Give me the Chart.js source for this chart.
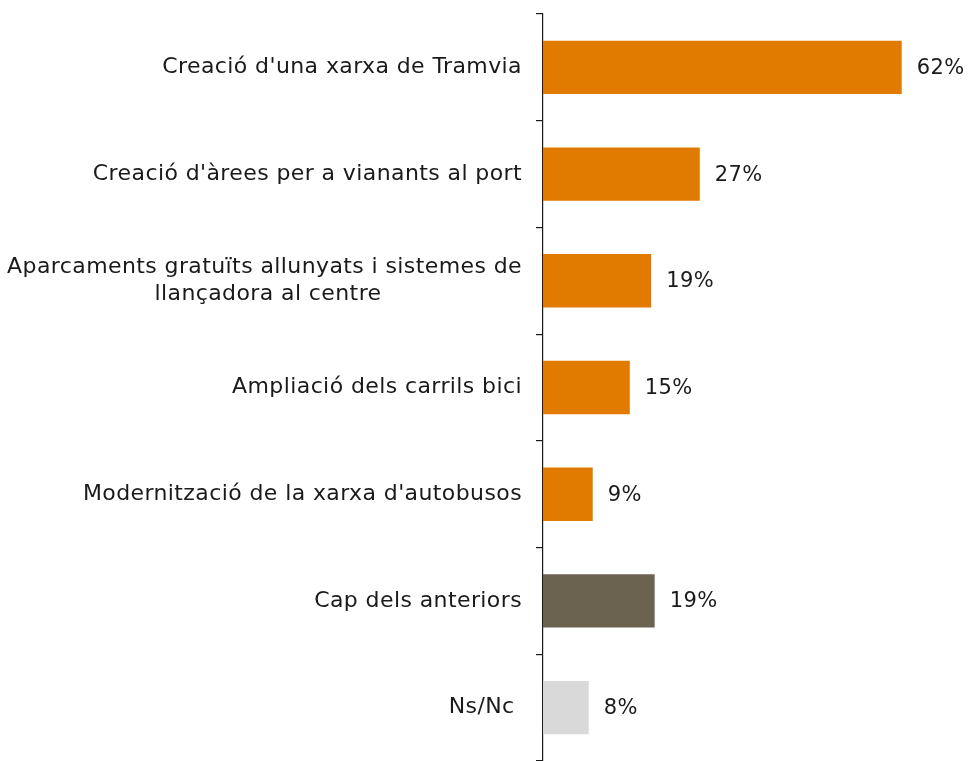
<!DOCTYPE html>
<html>
<head>
<meta charset="utf-8">
<script src="https://cdn.jsdelivr.net/npm/chart.js@4.4.1/dist/chart.umd.min.js"></script>
<style>
  html, body { margin: 0; padding: 0; background: #fff; }
  #wrap { width: 968px; height: 761px; }
</style>
</head>
<body>
<div id="wrap"><canvas id="chart"></canvas></div>
<script>
// categories (second line of the long label is padded so it sits centred under the first)
const categories = [
  "Creació d'una xarxa de Tramvia",
  "Creació d'àrees per a vianants al port",
  ["Aparcaments gratuïts allunyats i sistemes de", "llançadora al centre                   "],
  "Ampliació dels carrils bici",
  "Modernització de la xarxa d'autobusos",
  "Cap dels anteriors",
  "Ns/Nc "
];
// values (labels show rounded percent)
const values = [62, 27.1, 18.7, 15.0, 8.6, 19.3, 7.9];
const valueLabels = ["62%", "27%", "19%", "15%", "9%", "19%", "8%"];
const barColors = ["#E07B00", "#E07B00", "#E07B00", "#E07B00", "#E07B00", "#6B6350", "#D9D9D9"];

const FONT = "'DejaVu Sans', sans-serif";
const SPACING = "0.4px";

// a little letter spacing to get closer to the original geometric font
const spacingPlugin = {
  id: "spacing",
  beforeDraw(chart) { chart.ctx.letterSpacing = SPACING; }
};

// draw the % labels just after each bar
const valueLabelPlugin = {
  id: "valueLabels",
  afterDatasetsDraw(chart) {
    const ctx = chart.ctx;
    const meta = chart.getDatasetMeta(0);
    ctx.save();
    ctx.letterSpacing = "0.4px";
    ctx.font = "21px " + FONT;
    ctx.fillStyle = "#1a1a1a";
    ctx.textAlign = "left";
    ctx.textBaseline = "middle";
    meta.data.forEach((bar, i) => {
      ctx.fillText(valueLabels[i], bar.x + 15, bar.y + 1);
    });
    ctx.restore();
  }
};

const ctx = document.getElementById("chart").getContext("2d");
new Chart(ctx, {
  type: "bar",
  data: {
    labels: categories,
    datasets: [{
      data: values,
      backgroundColor: barColors,
      barPercentage: 0.5,
      categoryPercentage: 1.0
    }]
  },
  options: {
    indexAxis: "y",
    responsive: true,
    maintainAspectRatio: false,
    animation: false,
    layout: { padding: { top: 14, right: 20, bottom: -2, left: 0 } },
    plugins: {
      legend: { display: false },
      tooltip: { enabled: false }
    },
    scales: {
      x: {
        display: false,
        min: 0,
        max: 70
      },
      y: {
        afterFit: scale => {
          scale.width = 543;
          scale.paddingTop = 0;
          scale.paddingBottom = 0;
        },
        grid: {
          drawOnChartArea: false,
          offset: true,
          tickLength: 7,
          color: "#1a1a1a",
          lineWidth: 1.2
        },
        border: { display: true, color: "#1a1a1a", width: 1.2 },
        ticks: {
          color: "#1a1a1a",
          padding: 14,
          font: { family: FONT, size: 22, lineHeight: 1.22 }
        }
      }
    }
  },
  plugins: [spacingPlugin, valueLabelPlugin]
});
</script>
</body>
</html>
